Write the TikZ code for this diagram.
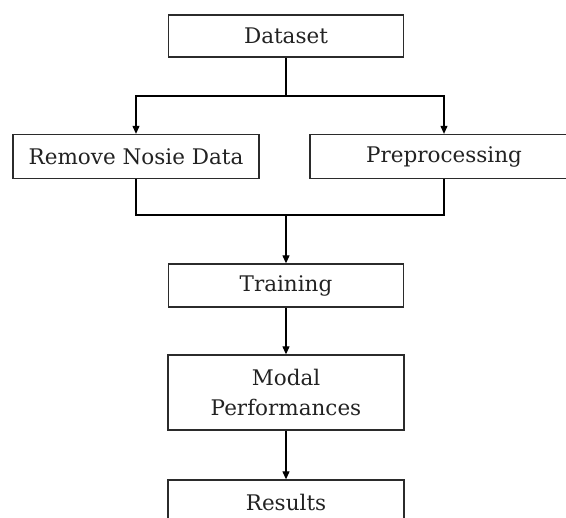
\documentclass[tikz,border=0pt]{standalone}
\usepackage{fontspec}
\setmainfont{DejaVu Serif}
\usetikzlibrary{arrows.meta}

\definecolor{inkline}{HTML}{2B2B2B}
\definecolor{inktext}{HTML}{222222}

\tikzset{
  stepbox/.style={draw=inkline, line width=1.3pt, rectangle, inner sep=0pt,
    align=center, text=inktext,
    font=\fontsize{21.5}{30}\selectfont},
  link/.style={draw=black, line width=1.1pt},
  flow/.style={link, -{Triangle[length=8pt,width=7pt]}}
}

\begin{document}
\begin{tikzpicture}[x=1pt, y=-1pt]
  \useasboundingbox (0,0) rectangle (566,518);

  % process boxes
  \node[stepbox, minimum width=235pt, minimum height=42pt] (data)  at (286,36)    {Dataset};
  \node[stepbox, minimum width=246pt, minimum height=44pt] (clean) at (136,156.5) {Remove Nosie Data};
  \node[stepbox, minimum width=268pt, minimum height=44pt] (prep)  at (444,156.5) {Preprocessing};
  \node[stepbox, minimum width=235pt, minimum height=43pt] (train) at (286,285.5) {Training};
  \node[stepbox, minimum width=236pt, minimum height=75pt] (perf)  at (286,392.5) {Modal\\Performances};
  \node[stepbox, minimum width=236pt, minimum height=44pt] (res)   at (286,502)   {Results};

  % branch and merge points
  \coordinate (split) at (286,96);
  \coordinate (join)  at (286,215);

  % dataset fans out to both branches
  \draw[link] (data.south) -- (split);
  \draw[flow] (split) -| (clean.north);
  \draw[flow] (split) -| (prep.north);

  % both branches merge into training
  \draw[link] (clean.south) |- (join);
  \draw[link] (prep.south) |- (join);
  \draw[flow] (join) -- (train.north);

  % remaining pipeline
  \draw[flow] (train.south) -- (perf.north);
  \draw[flow] (perf.south) -- (res.north);
\end{tikzpicture}
\end{document}
